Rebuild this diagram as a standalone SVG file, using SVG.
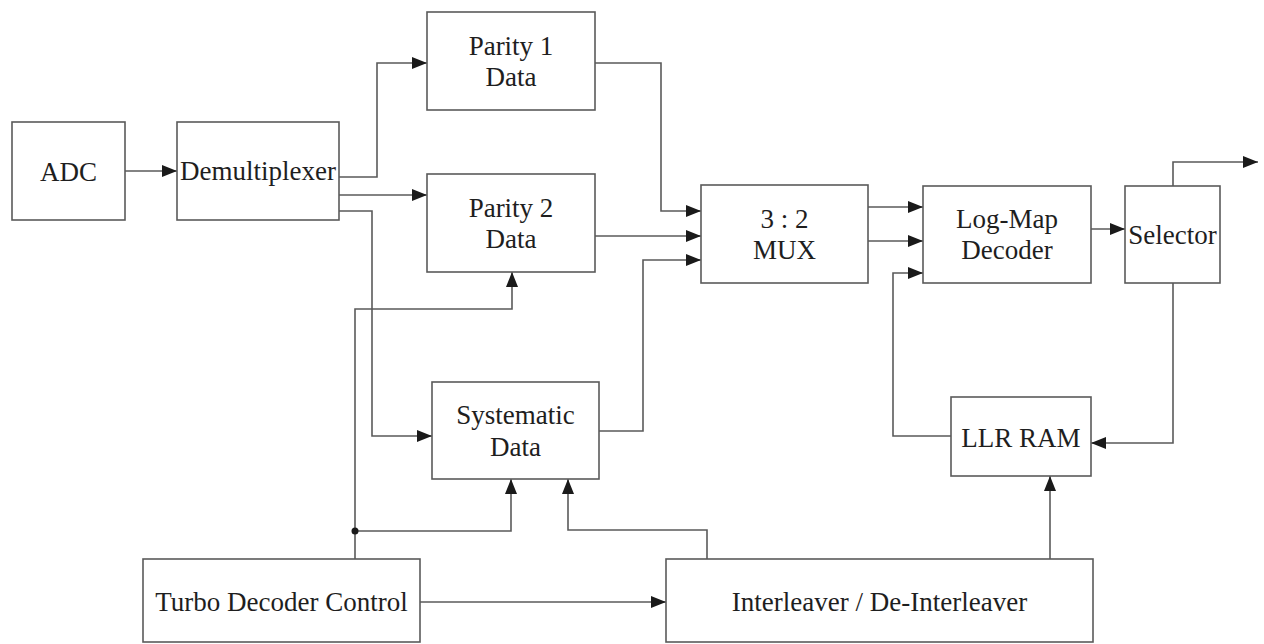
<svg xmlns="http://www.w3.org/2000/svg" width="1264" height="644" viewBox="0 0 1264 644">
  <style>
    .box { fill: #ffffff; stroke: #5a5a5a; stroke-width: 1.6; }
    .lbl { font-family: "Liberation Serif", "Times New Roman", serif; font-size: 27px; fill: #1e1e1e; text-anchor: middle; }
    .wire { fill: none; stroke: #5a5a5a; stroke-width: 1.6; }
    .arr { marker-end: url(#head); }
  </style>
  <defs>
    <marker id="head" markerUnits="userSpaceOnUse" markerWidth="15" markerHeight="12" refX="15" refY="6" orient="auto">
      <path d="M0,0 L15,6 L0,12 z" fill="#1a1a1a"/>
    </marker>
  </defs>
  <rect width="1264" height="644" fill="#ffffff"/>

  <g id="connectors">
    <path class="wire arr" d="M125,171 H177"/>
    <path class="wire arr" d="M339,177 H377 V63 H427"/>
    <path class="wire arr" d="M339,195 H427"/>
    <path class="wire arr" d="M339,211 H372 V436 H432"/>
    <path class="wire arr" d="M595,63 H661 V211 H701"/>
    <path class="wire arr" d="M595,236 H701"/>
    <path class="wire arr" d="M599,431 H643 V260 H701"/>
    <path class="wire arr" d="M868,207 H923"/>
    <path class="wire arr" d="M868,241 H923"/>
    <path class="wire arr" d="M951,436 H893 V273 H923"/>
    <path class="wire arr" d="M1091,229 H1125"/>
    <path class="wire arr" d="M1173,186 V162 H1258"/>
    <path class="wire arr" d="M1173,283 V443 H1091"/>
    <path class="wire arr" d="M355,559 V309 H512 V272"/>
    <path class="wire arr" d="M355,531 H511 V479"/>
    <circle cx="355" cy="531" r="3.5" fill="#1a1a1a"/>
    <path class="wire arr" d="M707,559 V530 H568 V479"/>
    <path class="wire arr" d="M1050,559 V476"/>
    <path class="wire arr" d="M420,602 H666"/>
  </g>

  <g id="adc">
    <rect class="box" x="12" y="122" width="113" height="98"/>
    <text class="lbl" x="68.5" y="181">ADC</text>
  </g>
  <g id="demultiplexer">
    <rect class="box" x="177" y="122" width="162" height="98"/>
    <text class="lbl" x="258" y="180">Demultiplexer</text>
  </g>
  <g id="parity1">
    <rect class="box" x="427" y="12" width="168" height="98"/>
    <text class="lbl" x="511" y="55">Parity 1</text>
    <text class="lbl" x="511" y="86">Data</text>
  </g>
  <g id="parity2">
    <rect class="box" x="427" y="174" width="168" height="98"/>
    <text class="lbl" x="511" y="217">Parity 2</text>
    <text class="lbl" x="511" y="248">Data</text>
  </g>
  <g id="systematic">
    <rect class="box" x="432" y="382" width="167" height="97"/>
    <text class="lbl" x="515.5" y="424">Systematic</text>
    <text class="lbl" x="515.5" y="456">Data</text>
  </g>
  <g id="mux">
    <rect class="box" x="701" y="185" width="167" height="98"/>
    <text class="lbl" x="784.5" y="228">3 : 2</text>
    <text class="lbl" x="784.5" y="259">MUX</text>
  </g>
  <g id="logmap">
    <rect class="box" x="923" y="186" width="168" height="97"/>
    <text class="lbl" x="1007" y="228">Log-Map</text>
    <text class="lbl" x="1007" y="259">Decoder</text>
  </g>
  <g id="selector">
    <rect class="box" x="1125" y="186" width="95" height="97"/>
    <text class="lbl" x="1172.5" y="244">Selector</text>
  </g>
  <g id="llr-ram">
    <rect class="box" x="951" y="397" width="140" height="79"/>
    <text class="lbl" x="1021" y="447">LLR RAM</text>
  </g>
  <g id="turbo-control">
    <rect class="box" x="143" y="559" width="277" height="83"/>
    <text class="lbl" x="281.5" y="611">Turbo Decoder Control</text>
  </g>
  <g id="interleaver">
    <rect class="box" x="666" y="559" width="427" height="83"/>
    <text class="lbl" x="879.5" y="611">Interleaver / De-Interleaver</text>
  </g>
</svg>
